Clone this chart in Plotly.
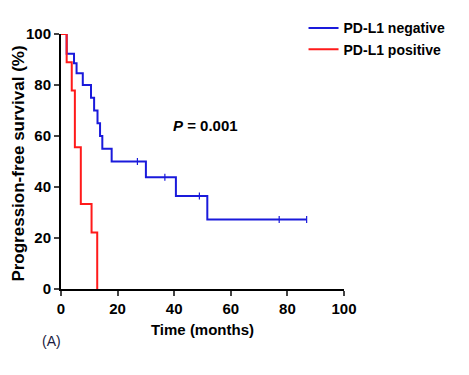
import plotly.graph_objects as go

# Kaplan-Meier step data (months, survival %)
neg_time = [0, 2.0, 4.6, 5.5, 7.7, 10.6, 11.7, 12.9, 13.8, 14.6, 17.9, 30.0, 40.6, 51.7, 86.8]
neg_surv = [100, 92.3, 88.5, 84.6, 80.0, 75.0, 70.0, 65.0, 60.0, 55.0, 50.0, 43.8, 36.5, 27.3, 27.3]
neg_censor_time = [27.0, 36.7, 48.9, 77.1, 86.8]
neg_censor_surv = [50.0, 43.8, 36.5, 27.3, 27.3]

pos_time = [0, 2.0, 3.8, 4.9, 7.0, 10.8, 12.8]
pos_surv = [100, 88.9, 77.8, 55.6, 33.3, 22.2, 0]

x_ticks = [0, 20, 40, 60, 80, 100]
y_ticks = [0, 20, 40, 60, 80, 100]

BLUE = "#1a1adb"
RED = "#ff1a1a"
FONT = "Liberation Sans, Arial, sans-serif"

fig = go.Figure()
fig.add_trace(go.Scatter(x=neg_time, y=neg_surv, mode="lines", line=dict(color=BLUE, width=2, shape="hv"),
                         name="PD-L1 negative", cliponaxis=False))
fig.add_trace(go.Scatter(x=pos_time, y=pos_surv, mode="lines", line=dict(color=RED, width=2, shape="hv"),
                         name="PD-L1 positive", cliponaxis=False))
fig.add_trace(go.Scatter(x=neg_censor_time, y=neg_censor_surv, mode="markers",
                         marker=dict(symbol="line-ns-open", size=5, color=BLUE, line=dict(color=BLUE, width=1.2)),
                         showlegend=False, cliponaxis=False))

fig.add_annotation(x=0.39, y=0.64, xref="paper", yref="paper", xanchor="left", yanchor="middle",
                   text="<b><i>P</i> = 0.001</b>", showarrow=False,
                   font=dict(family=FONT, size=15, color="black"))
fig.add_annotation(x=-0.075, y=-0.205, xref="paper", yref="paper", xanchor="left", yanchor="middle",
                   text="(A)", showarrow=False, font=dict(family=FONT, size=14, color="#1a1a40"))
# y-axis title
fig.add_annotation(x=-0.150, y=0.49, xref="paper", yref="paper", xanchor="center", yanchor="middle",
                   text="<b>Progression-free survival (%)</b>", textangle=-90, showarrow=False,
                   font=dict(family=FONT, size=17, color="black"))

fig.update_layout(
    width=453, height=359,
    margin=dict(l=53, r=117, t=26, b=78, autoexpand=False),
    paper_bgcolor="white", plot_bgcolor="white",
    font=dict(family=FONT, color="black"),
    legend=dict(x=0.857, y=1.085, xanchor="left", yanchor="top", bgcolor="rgba(0,0,0,0)",
                font=dict(family=FONT, size=14, color="black", weight="bold"), tracegroupgap=0, itemwidth=30),
    xaxis=dict(range=[0, 100], tickvals=x_ticks, ticks="outside", ticklen=5, tickwidth=2, automargin=False,
               showline=True, linewidth=2, linecolor="black", showgrid=False, zeroline=False,
               tickfont=dict(family=FONT, size=15, color="black", weight="bold"),
               title=dict(text="<b>Time (months)</b>", font=dict(family=FONT, size=15, color="black"), standoff=8)),
    yaxis=dict(range=[0, 100], tickvals=y_ticks, ticks="outside", ticklen=5, tickwidth=2, automargin=False,
               showline=True, linewidth=2, linecolor="black", showgrid=False, zeroline=False,
               tickfont=dict(family=FONT, size=15, color="black", weight="bold")),
)
fig.write_html("out.html")
